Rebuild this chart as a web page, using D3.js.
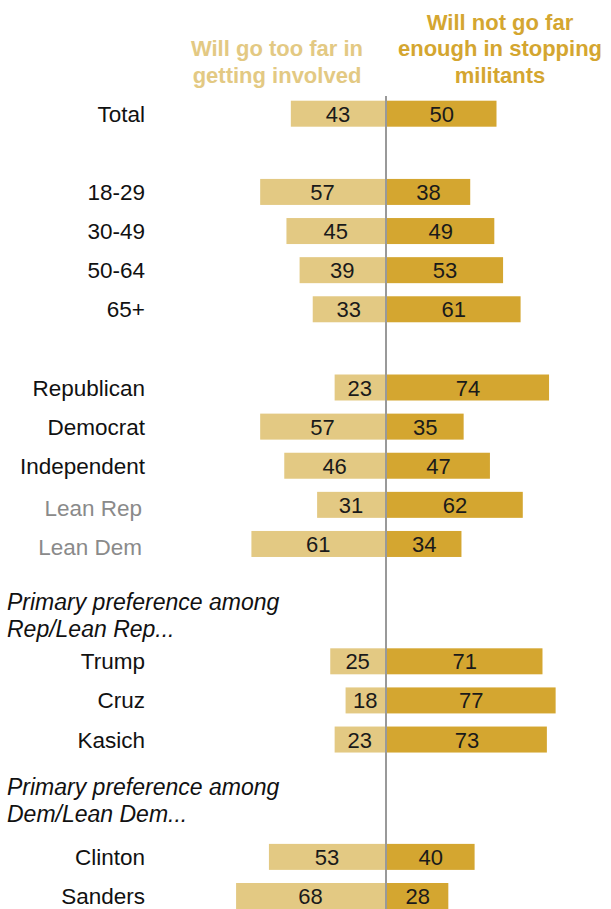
<!DOCTYPE html>
<html>
<head>
<meta charset="utf-8">
<script src="https://cdn.jsdelivr.net/npm/d3@7"></script>
<style>
  html, body { margin: 0; padding: 0; background: #fff; }
  svg { display: block; }
</style>
</head>
<body>
<svg id="chart" width="611" height="909"></svg>
<script>
// ---- data ----
const categories = ["Total", "18-29", "30-49", "50-64", "65+",
  "Republican", "Democrat", "Independent", "Lean Rep", "Lean Dem",
  "Trump", "Cruz", "Kasich", "Clinton", "Sanders"];
const rowIndex = [0, 2, 3, 4, 5, 7, 8, 9, 10, 11, 14, 15, 16, 19, 20];
const tooFar = [43, 57, 45, 39, 33, 23, 57, 46, 31, 61, 25, 18, 23, 53, 68];
const notFarEnough = [50, 38, 49, 53, 61, 74, 35, 47, 62, 34, 71, 77, 73, 40, 28];
const mutedCategories = ["Lean Rep", "Lean Dem"];
const groupHeaders = [
  { row: 12.7, lines: ["Primary preference among", "Rep/Lean Rep..."] },
  { row: 17.42, lines: ["Primary preference among", "Dem/Lean Dem..."] }
];
const seriesNames = [
  ["Will go too far in", "getting involved"],
  ["Will not go far", "enough in stopping", "militants"]
];

// ---- layout ----
const svg = d3.select("#chart");
const font = "'Liberation Sans', Arial, sans-serif";
const colLeft = "#e3c983", colRight = "#d4a630";
const cx = 386;
const unit = 2.19;

const y = d3.scaleLinear().domain([0, 20]).range([113.7, 896]);
const xL = d3.scaleLinear().domain([0, 100]).range([cx - 1, cx - 1 - 100 * unit]);
const xR = d3.scaleLinear().domain([0, 100]).range([cx + 1, cx + 1 + 100 * unit]);
const barH = 26;

const data = categories.map((c, i) => ({ c, r: rowIndex[i], l: tooFar[i], rt: notFarEnough[i] }));
const isMuted = d => mutedCategories.includes(d.c);

// headers
const hL = svg.append("text").attr("text-anchor", "middle")
  .attr("font-family", font).attr("font-weight", "bold").attr("font-size", 22).attr("fill", colLeft);
seriesNames[0].forEach((t, i) => hL.append("tspan").attr("x", 277).attr("y", 56 + i * 26.5).text(t));
const hR = svg.append("text").attr("text-anchor", "middle")
  .attr("font-family", font).attr("font-weight", "bold").attr("font-size", 22).attr("fill", colRight);
seriesNames[1].forEach((t, i) => hR.append("tspan").attr("x", 500).attr("y", 29.5 + i * 26.5).text(t));

// bars
const g = svg.append("g");
g.selectAll("rect.l").data(data).join("rect")
  .attr("x", d => xL(d.l)).attr("width", d => xL(0) - xL(d.l))
  .attr("y", d => y(d.r) - barH / 2).attr("height", barH).attr("fill", colLeft);
g.selectAll("rect.r").data(data).join("rect")
  .attr("x", xR(0)).attr("width", d => xR(d.rt) - xR(0))
  .attr("y", d => y(d.r) - barH / 2).attr("height", barH).attr("fill", colRight);

// center line
svg.append("line").attr("x1", cx).attr("x2", cx).attr("y1", 96).attr("y2", 909)
  .attr("stroke", "#999").attr("stroke-width", 2);

// value labels
g.selectAll("text.vl").data(data).join("text")
  .attr("x", d => (xL(d.l) + xL(0)) / 2).attr("y", d => y(d.r) + 8)
  .attr("text-anchor", "middle").attr("font-family", font).attr("font-size", 22).attr("fill", "#1a1a1a")
  .text(d => d.l);
g.selectAll("text.vr").data(data).join("text")
  .attr("x", d => (xR(d.rt) + xR(0)) / 2).attr("y", d => y(d.r) + 8)
  .attr("text-anchor", "middle").attr("font-family", font).attr("font-size", 22).attr("fill", "#1a1a1a")
  .text(d => d.rt);

// category labels
g.selectAll("text.cat").data(data).join("text")
  .attr("x", d => isMuted(d) ? 142 : 145)
  .attr("y", d => y(d.r) + (isMuted(d) ? 11 : 8))
  .attr("text-anchor", "end").attr("font-family", font).attr("font-size", 22.5)
  .attr("fill", d => isMuted(d) ? "#8a8a8a" : "#111")
  .text(d => d.c);

// group headers
groupHeaders.forEach(h => {
  const t = svg.append("text").attr("font-family", font).attr("font-style", "italic")
    .attr("font-size", 23).attr("fill", "#111");
  h.lines.forEach((ln, i) => t.append("tspan").attr("x", 7).attr("y", y(h.row) + i * 26.5).text(ln));
});
</script>
</body>
</html>
